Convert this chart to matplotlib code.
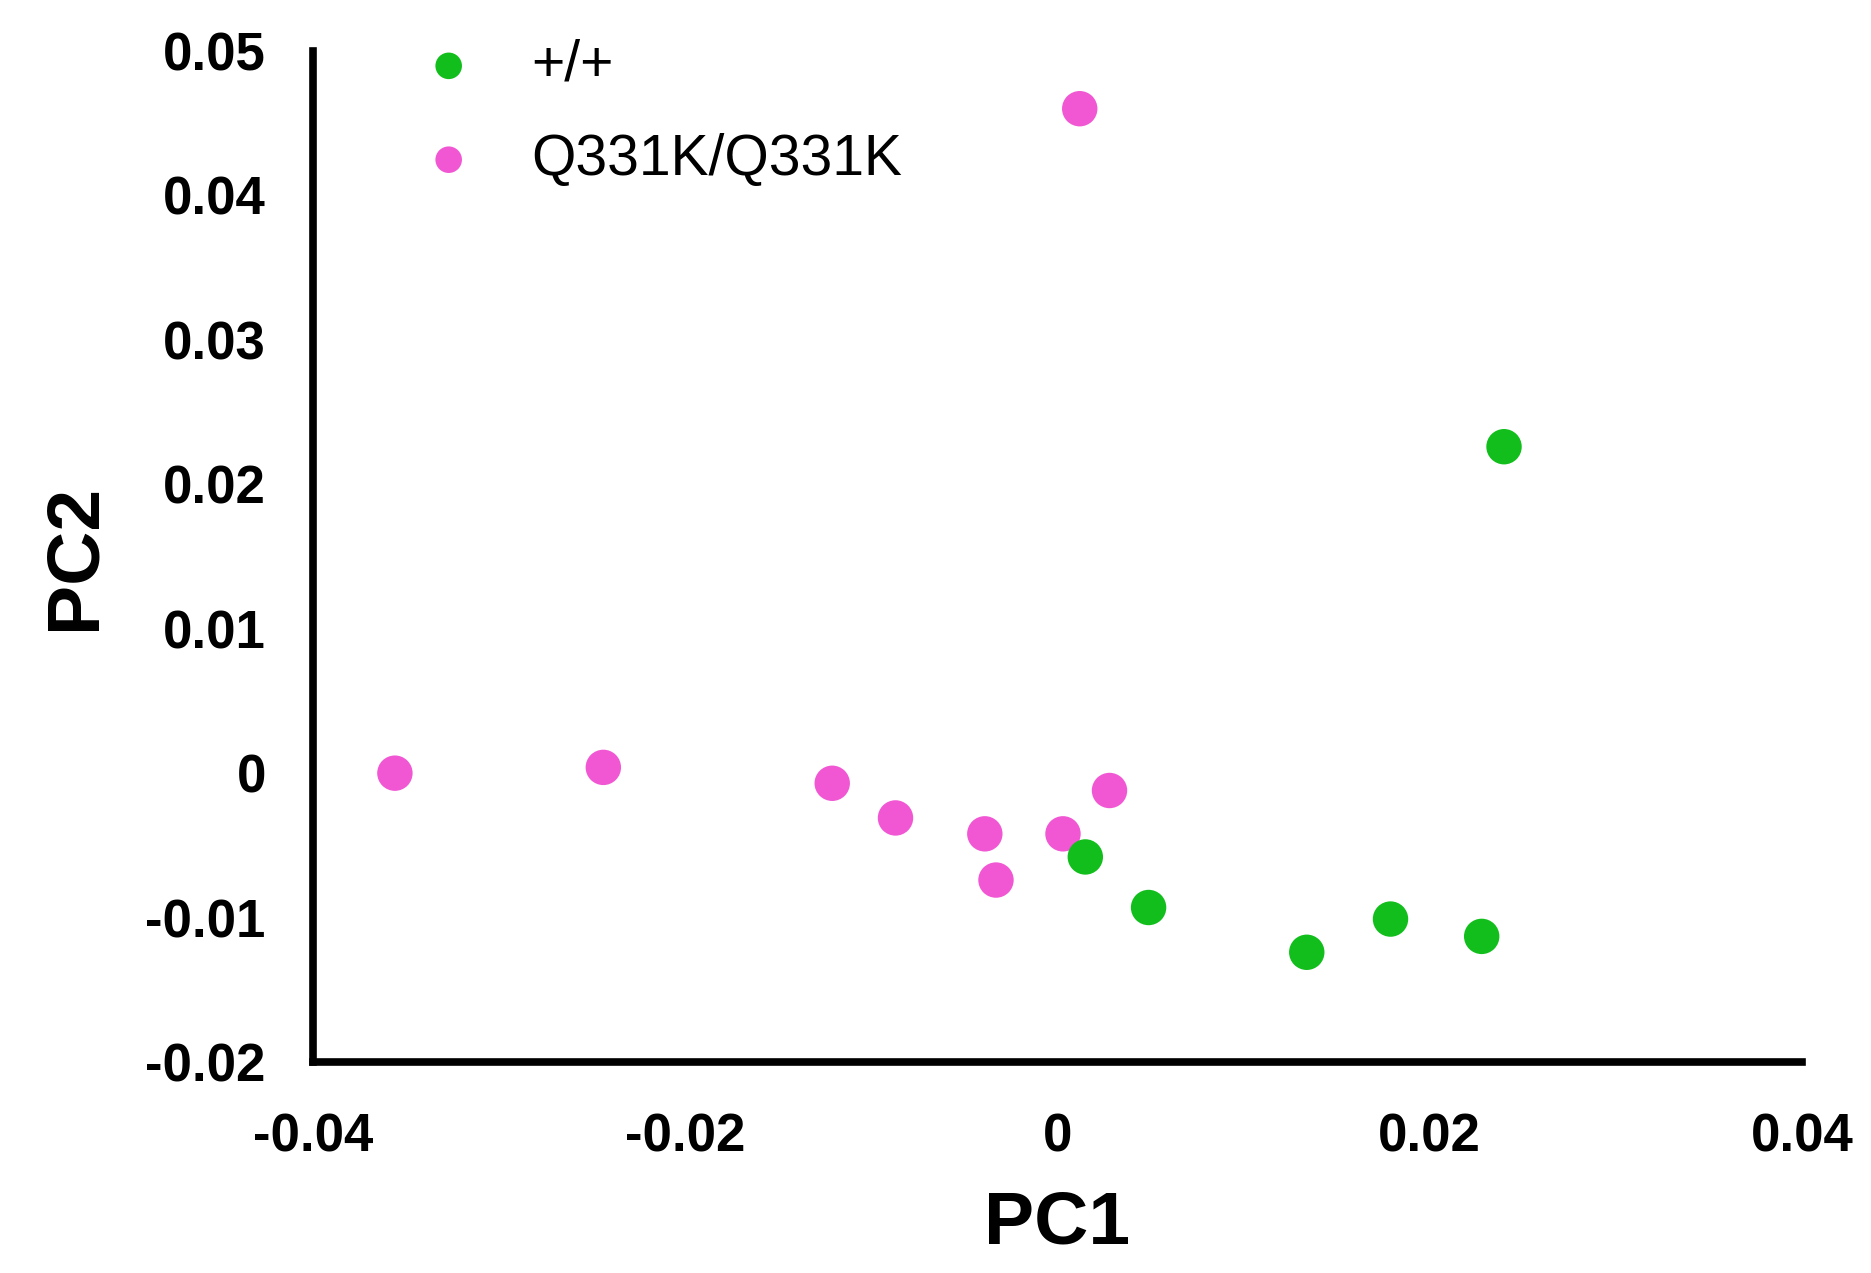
import matplotlib
matplotlib.use("Agg")
import matplotlib.pyplot as plt

plt.rcParams['font.family'] = ['Liberation Sans', 'DejaVu Sans']

# Data
wt_pc1 = [0.0015, 0.0049, 0.0134, 0.0179, 0.0228, 0.0240]
wt_pc2 = [-0.0058, -0.0093, -0.0124, -0.0101, -0.0113, 0.0226]
mut_pc1 = [-0.0356, -0.0244, -0.0121, -0.0087, -0.0039, -0.0033, 0.0003, 0.0028, 0.0012]
mut_pc2 = [0.0000, 0.0004, -0.0007, -0.0031, -0.0042, -0.0074, -0.0042, -0.0012, 0.0460]
labels = ['+/+', 'Q331K/Q331K']
xticks = [-0.04, -0.02, 0, 0.02, 0.04]
xticklabels = ['-0.04', '-0.02', '0', '0.02', '0.04']
yticks = [-0.02, -0.01, 0, 0.01, 0.02, 0.03, 0.04, 0.05]
yticklabels = ['-0.02', '-0.01', '0', '0.01', '0.02', '0.03', '0.04', '0.05']

green = '#12BE1C'
pink = '#F157D3'

fig = plt.figure(figsize=(18.71, 12.73), dpi=100)
ax = fig.add_axes([0.1673, 0.1657, 0.963 - 0.1673, 0.960 - 0.1657])

ax.scatter(wt_pc1, wt_pc2, s=650, color=green, edgecolors='none', label=labels[0], zorder=3)
ax.scatter(mut_pc1, mut_pc2, s=650, color=pink, edgecolors='none', label=labels[1], zorder=2)

ax.set_xlim(-0.04, 0.04)
ax.set_ylim(-0.02, 0.05)
ax.set_xticks(xticks)
ax.set_xticklabels(xticklabels)
ax.set_yticks(yticks)
ax.set_yticklabels(yticklabels)

for s in ['top', 'right']:
    ax.spines[s].set_visible(False)
for s in ['left', 'bottom']:
    ax.spines[s].set_linewidth(5.5)
    ax.spines[s].set_color('black')

ax.tick_params(axis='both', length=0, labelsize=38)
ax.tick_params(axis='x', pad=36)
ax.tick_params(axis='y', pad=34)
for lab in ax.get_xticklabels() + ax.get_yticklabels():
    lab.set_fontweight('bold')

ax.set_xlabel('PC1', fontsize=54, fontweight='bold', labelpad=20)
ax.set_ylabel('PC2', fontsize=54, fontweight='bold', labelpad=26)

leg = ax.legend(loc='upper left', bbox_to_anchor=(0.072, 1.012), frameon=False,
                fontsize=41, markerscale=0.75, handlelength=1.0, handletextpad=0.95,
                labelspacing=0.7, borderpad=0, borderaxespad=0)

fig.savefig('out.png', dpi=100, facecolor='white')
